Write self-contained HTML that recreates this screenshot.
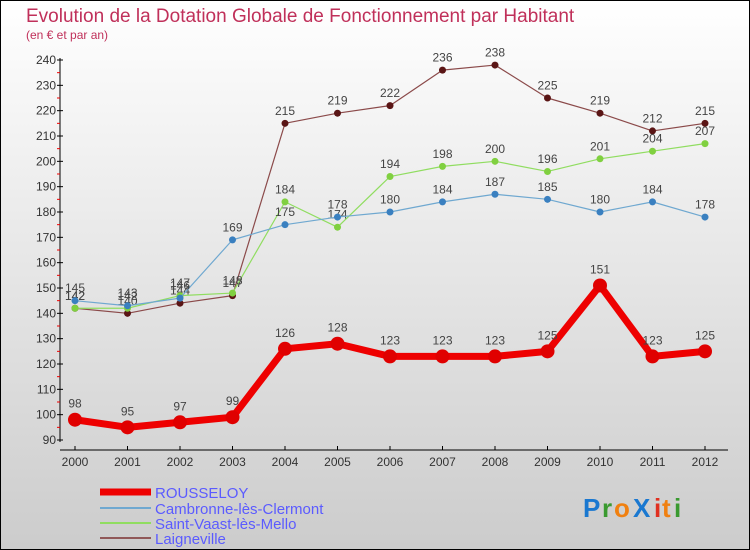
<!DOCTYPE html>
<html><head><meta charset="utf-8"><style>
body{margin:0;width:750px;height:550px;overflow:hidden;font-family:"Liberation Sans",sans-serif}
svg{display:block}
</style></head><body>
<svg id="c" width="750" height="550" xmlns="http://www.w3.org/2000/svg">
<defs><linearGradient id="bg" x1="0" y1="0" x2="0" y2="1"><stop offset="0" stop-color="#ffffff"/><stop offset="1" stop-color="#cccccc"/></linearGradient></defs>
<rect x="0.5" y="0.5" width="749" height="549" fill="url(#bg)" stroke="#000"/>
<text x="26" y="22" font-size="19" fill="#c0305a">Evolution de la Dotation Globale de Fonctionnement par Habitant</text>
<text x="26" y="39" font-size="12" fill="#c0305a">(en € et par an)</text>
<g id="axes"></g><g id="series"></g>
<g>
<line x1="100" y1="492" x2="151" y2="492" stroke="#e00" stroke-width="7"/>
<text x="155" y="498" font-size="15" fill="#5b5bff">ROUSSELOY</text>
<line x1="100" y1="508" x2="151" y2="508" stroke="#6fa8d0" stroke-width="2"/>
<text x="155" y="514" font-size="15" fill="#5b5bff">Cambronne-lès-Clermont</text>
<line x1="100" y1="523" x2="151" y2="523" stroke="#90dd60" stroke-width="2"/>
<text x="155" y="529" font-size="15" fill="#5b5bff">Saint-Vaast-lès-Mello</text>
<line x1="100" y1="538" x2="151" y2="538" stroke="#905858" stroke-width="2"/>
<text x="155" y="544" font-size="15" fill="#5b5bff">Laigneville</text>
</g>
<g font-size="26" font-weight="bold">
<text x="583" y="517" fill="#1a78d0">P</text><text x="602" y="517" fill="#3a9a30">r</text><text x="614" y="517" fill="#f08010">o</text><text x="633" y="517" fill="#1a78d0">X</text><text x="654" y="517" fill="#e03020">i</text><text x="662" y="517" fill="#f08010">t</text><text x="674" y="517" fill="#3a9a30">i</text>
</g>
</svg>
<script>
const years=[2000,2001,2002,2003,2004,2005,2006,2007,2008,2009,2010,2011,2012];
const rousseloy=[98,95,97,99,126,128,123,123,123,125,151,123,125];
const cambronne=[145,143,146,169,175,178,180,184,187,185,180,184,178];
const saintVaast=[142,142,147,148,184,174,194,198,200,196,201,204,207];
const laigneville=[142,140,144,147,215,219,222,236,238,225,219,212,215];
const yTicks=[90,100,110,120,130,140,150,160,170,180,190,200,210,220,230,240];
const NS="http://www.w3.org/2000/svg";
const xs=i=>75+i*52.5;
const ys=v=>440-(v-90)*380/150;
function mk(t,a,p){const e=document.createElementNS(NS,t);for(const k in a)e.setAttribute(k,a[k]);p.appendChild(e);return e;}
const ax=document.getElementById('axes');
const yl=mk('line',{x1:60,y1:58,x2:60,y2:442,stroke:'#000'},ax);


const xl=mk('line',{x1:60,y1:450,x2:728,y2:450,stroke:'#000'},ax);


yTicks.forEach(v=>{
  mk('line',{x1:57,y1:ys(v),x2:63,y2:ys(v),stroke:'#000'},ax);
  if(v<240)mk('line',{x1:57,y1:ys(v+5),x2:60,y2:ys(v+5),stroke:'#e00'},ax);
  const t=mk('text',{x:56,y:ys(v)+4,'font-size':12,fill:'#333','text-anchor':'end'},ax);
  t.textContent=v;
  
  
});
years.forEach((y,i)=>{
  mk('line',{x1:xs(i),y1:446,x2:xs(i),y2:450,stroke:'#000'},ax);
  const t=mk('text',{x:xs(i),y:466,'font-size':12,fill:'#333','text-anchor':'middle'},ax);
  t.textContent=y;
  
  
});
const sg=document.getElementById('series');
function draw(vals,name,color,lw,r,dot){
  const g=mk('g',{},sg);
  
  
  const l=mk('polyline',{points:vals.map((v,i)=>xs(i)+','+ys(v)).join(' '),fill:'none',stroke:color,'stroke-width':lw,'stroke-linejoin':'round'},g);
  
  
  vals.forEach((v,i)=>{
    const c=mk('circle',{cx:xs(i),cy:ys(v),r:r,fill:dot},g);
    
    
    const t=mk('text',{x:xs(i),y:ys(v)-(r+5),'font-size':12,fill:'#444','text-anchor':'middle'},g);
    t.textContent=v;
    
    
  });
}
draw(laigneville,'laigneville','#8b4a4a',1.2,3.5,'#5a1515');
draw(saintVaast,'saint-vaast','#90dd60',1.2,3.5,'#80d040');
draw(cambronne,'cambronne','#6fa8d0',1.2,3.5,'#3a80c0');
draw(rousseloy,'rousseloy','#ee0000',7,7,'#e00000');
</script>
</body></html>
